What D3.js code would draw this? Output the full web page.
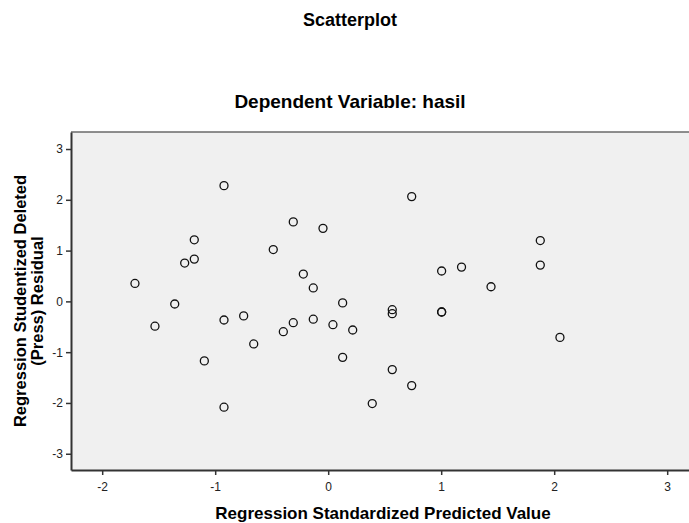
<!DOCTYPE html>
<html>
<head>
<meta charset="utf-8">
<script src="https://cdn.jsdelivr.net/npm/d3@7"></script>
<style>
  body { margin: 0; background: #fff; }
  svg { display: block; font-family: "Liberation Sans", Arial, sans-serif; }
</style>
</head>
<body>
<div id="chart"></div>
<script>
// standardized predicted value (x) and studentized deleted residual (y)
const predicted = [
  -1.710, -1.533, -1.358, -1.270, -1.185, -1.185, -1.096, -0.922, -0.922, -0.922,
  -0.748, -0.659, -0.486, -0.397, -0.309, -0.309, -0.220, -0.132, -0.132, -0.046,
  0.042, 0.128, 0.128, 0.217, 0.390, 0.567, 0.567, 0.567, 0.739, 0.739,
  1.004, 1.004, 1.004, 1.180, 1.441, 1.877, 1.877, 2.051
]
const residual = [
  0.353, -0.488, -0.052, 0.754, 1.212, 0.832, -1.172, 2.279, -0.367, -2.084,
  -0.286, -0.838, 1.021, -0.597, 1.565, -0.420, 0.538, 0.264, -0.351, 1.438,
  -0.459, -0.030, -1.102, -0.563, -2.012, -0.164, -0.243, -1.343, 2.063, -1.658,
  0.598, -0.209, -0.209, 0.675, 0.288, 1.198, 0.714, -0.709
]
const xTicks = [-2, -1, 0, 1, 2, 3]
const yTicks = [-3, -2, -1, 0, 1, 2, 3]

const points = predicted.map((x, i) => ({ x, y: residual[i] }))

const width = 689
const height = 523
const margin = { top: 132, right: 0, bottom: 53, left: 71 }

const svg = d3.select('#chart')
  .append('svg')
  .attr('width', width)
  .attr('height', height)

const x = d3.scaleLinear()
  .domain([-2.276, 3.193])
  .range([margin.left, width - margin.right])

const y = d3.scaleLinear()
  .domain([-3.32, 3.335])
  .range([height - margin.bottom, margin.top])

svg.append('rect')
  .attr('x', margin.left)
  .attr('y', margin.top)
  .attr('width', width - margin.right - margin.left)
  .attr('height', height - margin.bottom - margin.top)
  .attr('fill', '#f0f0f0')

// top border
svg.append('line')
  .attr('x1', margin.left).attr('x2', width)
  .attr('y1', margin.top).attr('y2', margin.top)
  .attr('stroke', '#6a6a6a')
  .attr('stroke-width', 1.5)

const fmt = d => String(d)

const xAxis = svg.append('g')
  .attr('transform', `translate(0, ${height - margin.bottom})`)
  .call(d3.axisBottom(x).tickValues(xTicks).tickFormat(fmt).tickSize(5).tickSizeOuter(0).tickPadding(6))

const yAxis = svg.append('g')
  .attr('transform', `translate(${margin.left}, 0)`)
  .call(d3.axisLeft(y).tickValues(yTicks).tickFormat(fmt).tickSize(5).tickSizeOuter(0).tickPadding(3))

for (const g of [xAxis, yAxis]) {
  g.select('.domain').attr('stroke', '#333').attr('stroke-width', 2)
  g.selectAll('.tick line').attr('stroke', '#333').attr('stroke-width', 1.5)
  g.selectAll('.tick text')
    .attr('fill', '#222')
    .style('font-size', '12px')
    .style('font-family', '"Liberation Sans", Arial, sans-serif')
}
xAxis.selectAll('.tick text').attr('dy', '0.85em')

svg.append('g')
  .selectAll('circle')
  .data(points)
  .join('circle')
    .attr('cx', d => x(d.x))
    .attr('cy', d => y(d.y))
    .attr('r', 4)
    .attr('fill', 'none')
    .attr('stroke', '#111')
    .attr('stroke-width', 1.3)

svg.append('text')
  .attr('x', 350)
  .attr('y', 26)
  .attr('text-anchor', 'middle')
  .style('font-size', '18px')
  .style('font-weight', 'bold')
  .text('Scatterplot')

svg.append('text')
  .attr('x', 350)
  .attr('y', 108)
  .attr('text-anchor', 'middle')
  .style('font-size', '19px')
  .style('font-weight', 'bold')
  .text('Dependent Variable: hasil')

svg.append('text')
  .attr('x', 383)
  .attr('y', 519)
  .attr('text-anchor', 'middle')
  .style('font-size', '17px')
  .style('font-weight', 'bold')
  .text('Regression Standardized Predicted Value')

const yLabel = svg.append('text')
  .attr('transform', 'translate(0, 301) rotate(-90)')
  .attr('text-anchor', 'middle')
  .style('font-size', '16.5px')
  .style('font-weight', 'bold')

yLabel.append('tspan').attr('x', 0).attr('y', 26).text('Regression Studentized Deleted')
yLabel.append('tspan').attr('x', 0).attr('y', 43).text('(Press) Residual')
</script>
</body>
</html>
